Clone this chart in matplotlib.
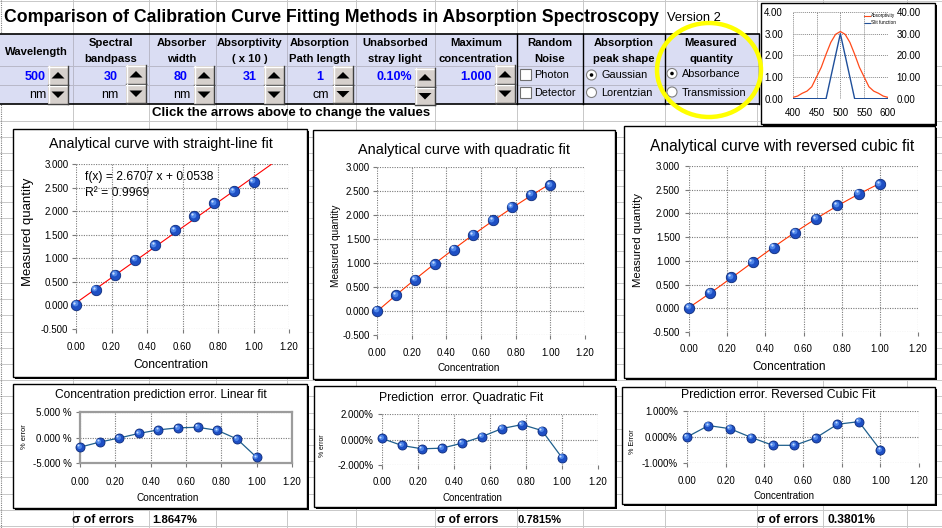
import numpy as np
import matplotlib
matplotlib.use('Agg')
import matplotlib.pyplot as plt
from matplotlib.patches import Rectangle, Polygon, Ellipse, Circle
import matplotlib.transforms as mtransforms
from matplotlib.ticker import FuncFormatter, FixedLocator

plt.rcParams['font.family'] = ['Liberation Sans', 'DejaVu Sans']

# ---------------- data ----------------
concentration = [0.000, 0.111, 0.222, 0.333, 0.444, 0.556, 0.667, 0.778, 0.889, 1.000]
measured = [0.01, 0.33, 0.65, 0.97, 1.28, 1.59, 1.89, 2.17, 2.42, 2.62]
linear_slope = 2.6707
linear_intercept = 0.0538
r_squared = 0.9969
err_linear = [-1.9, -0.9, -0.1, 0.8, 1.5, 1.9, 2.0, 1.4, -0.3, -3.9]
err_quadratic = [0.08, -0.47, -0.73, -0.68, -0.29, 0.23, 0.86, 1.17, 0.70, -1.43]
err_cubic = [0.00, 0.44, 0.32, -0.02, -0.32, -0.32, -0.03, 0.49, 0.59, -0.50]
sigma_labels = ['1.8647%', '0.7815%', '0.3801%']

spec_wavelength = [400, 410, 420, 430, 440, 450, 460, 470, 480, 490, 500,
                   510, 520, 530, 540, 550, 560, 570, 580, 590, 600]
absorptivity = [0.06, 0.12, 0.25, 0.35, 0.55, 1.00, 1.45, 2.05, 2.60, 2.97, 3.10,
                2.97, 2.60, 2.05, 1.45, 1.00, 0.55, 0.35, 0.25, 0.12, 0.06]
slit_wavelength = [400, 470, 500, 530, 600]
slit_function = [0, 0, 30, 0, 0]

headers = ['Wavelength', 'Spectral\nbandpass', 'Absorber\nwidth', 'Absorptivity\n( x 10 )',
           'Absorption\nPath length', 'Unabsorbed\nstray light', 'Maximum\nconcentration',
           'Random\nNoise', 'Absorption\npeak shape', 'Measured\nquantity']
values = ['500', '30', '80', '31', '1', '0.10%', '1.000']
units = ['nm', 'nm', 'nm', '', 'cm', '', '']
noise_options = ['Photon', 'Detector']
shape_options = ['Gaussian', 'Lorentzian']
quantity_options = ['Absorbance', 'Transmission']

W, H = 942, 528
fig = plt.figure(figsize=(W / 100, H / 100), dpi=100)
renderer = fig.canvas.get_renderer()

ov = fig.add_axes([0, 0, 1, 1], zorder=0)
ov.set_xlim(0, W); ov.set_ylim(H, 0); ov.axis('off')
top = fig.add_axes([0, 0, 1, 1], zorder=20)
top.set_xlim(0, W); top.set_ylim(H, 0); top.axis('off'); top.patch.set_alpha(0)


def ftext(ax, x, y, s, width=None, size=8, vertical=False, **kw):
    t = ax.text(x, y, s, fontsize=size, **kw)
    if width:
        bb = t.get_window_extent(renderer)
        w = bb.height if vertical else bb.width
        t.set_fontsize(size * width / w)
    return t


# ---------------- spreadsheet grid ----------------
gridc = '#C8C8C8'
vlines = [73, 149, 216, 287, 356, 435, 517, 583, 665, 757, 823, 907]
for x in vlines:
    ov.plot([x, x], [0, H], color=gridc, lw=0.7, zorder=0)
hlines = [0.5, 66, 85, 121] + [121 + 16.2 * k for k in range(1, 26)]
for y in hlines:
    ov.plot([0, W], [y, y], color=gridc, lw=0.7, zorder=0)
ov.plot([1, 1], [0, H], color='#808080', lw=0.8, ls=(0, (1, 1)), zorder=0)

# ---------------- control panel ----------------
ov.add_patch(Rectangle((0, 34), 759, 70, facecolor='#DADDF3', edgecolor='none', zorder=0.5))
for y in [66, 85]:
    ov.plot([0, 759], [y, y], color='#B8B8C8', lw=0.7, zorder=0.6)
for x in [73, 149, 216, 287, 356, 435]:
    ov.plot([x, x], [34, 104], color='#B8B8C8', lw=0.7, zorder=0.6)
ov.plot([0, 759], [34, 34], color='black', lw=1.2, zorder=1)
ov.plot([0, 759], [104, 104], color='black', lw=1.2, zorder=1)
for x in [517, 583, 665, 759]:
    ov.plot([x, x], [34, 104], color='black', lw=1.0, zorder=1)

ftext(ov, 4, 17, 'Comparison of Calibration Curve Fitting Methods in Absorption Spectroscopy',
      width=652, size=13, weight='bold', ha='left', va='center', zorder=2)
ftext(ov, 667, 18, 'Version 2', width=54, size=9, ha='left', va='center', zorder=2)
ftext(ov, 152, 113, 'Click the arrows above to change the values', width=280, size=8,
      weight='bold', ha='left', va='center', zorder=2)

hdr_x = [36, 111, 182, 250, 320, 395, 476, 550, 624, 711]
for hx, h in zip(hdr_x, headers):
    lines = h.split('\n')
    ys = [52] if len(lines) == 1 else [43.5, 59.5]
    for ln, yy in zip(lines, ys):
        ov.text(hx, yy, ln, fontsize=8.1, weight='bold', ha='center', va='center', zorder=2,
                family=['Liberation Sans Narrow', 'Liberation Sans'])

val_right = [46, 118, 188, 257, 323, 412, 492]
for vx, v in zip(val_right, values):
    ov.text(vx, 76.5, v, fontsize=9, weight='bold', color='#0000FF', ha='right', va='center', zorder=2)
unit_right = [46, 118, 190, 0, 329, 0, 0]
for ux, u in zip(unit_right, units):
    if u:
        ov.text(ux, 95.5, u, fontsize=9, color='black', ha='right', va='center', zorder=2)

# spin buttons
buttons = [(48, 66, 85, 104), (126, 65, 84, 103), (194, 66, 85, 104), (264, 66, 85, 104),
           (333, 66, 85, 103), (415, 68, 87, 105), (495, 65, 84, 103)]


def spin(x0, y0, y1, up):
    w = 20
    ov.add_patch(Rectangle((x0, y0), w, y1 - y0, facecolor='#D6D0CC', edgecolor='none', zorder=3))
    ov.plot([x0, x0 + w], [y0 + 0.5, y0 + 0.5], color='white', lw=1, zorder=3.1)
    ov.plot([x0 + 0.5, x0 + 0.5], [y0, y1], color='white', lw=1, zorder=3.1)
    ov.plot([x0, x0 + w], [y1 - 0.5, y1 - 0.5], color='#404040', lw=1, zorder=3.1)
    ov.plot([x0 + w - 0.5, x0 + w - 0.5], [y0, y1], color='#404040', lw=1, zorder=3.1)
    cx, cy = x0 + w / 2, (y0 + y1) / 2
    if up:
        pts = [(cx - 6.5, cy + 3), (cx + 6.5, cy + 3), (cx, cy - 3.5)]
    else:
        pts = [(cx - 6.5, cy - 3), (cx + 6.5, cy - 3), (cx, cy + 3.5)]
    ov.add_patch(Polygon(pts, closed=True, facecolor='black', edgecolor='none', zorder=3.2))


for (bx, ya, ym, yb) in buttons:
    spin(bx, ya, ym, True)
    spin(bx, ym, yb, False)

# check boxes
for yy, lab in zip([75, 93], noise_options):
    ov.add_patch(Rectangle((519.5, yy - 6), 11, 11, facecolor='white', edgecolor='#707070', lw=0.8, zorder=3))
    ov.text(534, yy, lab, fontsize=7.8, ha='left', va='center', zorder=3)
# radio buttons
for yy, lab, sel in zip([75, 92.5], shape_options, [True, False]):
    ov.add_patch(Circle((591.5, yy), 5, facecolor='white', edgecolor='#808080', lw=0.8, zorder=3))
    if sel:
        ov.add_patch(Circle((591.5, yy), 1.8, facecolor='black', edgecolor='none', zorder=3.1))
    ov.text(601.5, yy + 0.5, lab, fontsize=7.8, ha='left', va='center', zorder=3)
for yy, lab, sel in zip([73.5, 92], quantity_options, [True, False]):
    ov.add_patch(Circle((672, yy), 5, facecolor='white', edgecolor='#808080', lw=0.8, zorder=3))
    if sel:
        ov.add_patch(Circle((672, yy), 1.8, facecolor='black', edgecolor='none', zorder=3.1))
    ov.text(682, yy + 0.5, lab, fontsize=7.8, ha='left', va='center', zorder=3)


# ---------------- helpers for charts ----------------
def box(x0, y0, x1, y1):
    ov.add_patch(Rectangle((x0 + 2, y0 + 2), x1 - x0, y1 - y0, facecolor='black', edgecolor='none', zorder=4))
    ov.add_patch(Rectangle((x0, y0), x1 - x0, y1 - y0, facecolor='white', edgecolor='black', lw=1.0, zorder=4.1))


def make_axes(px0, px1, py0, py1, xlim, ylim):
    ax = fig.add_axes([px0 / W, 1 - py1 / H, (px1 - px0) / W, (py1 - py0) / H], zorder=5)
    ax.set_xlim(*xlim); ax.set_ylim(*ylim)
    ax.patch.set_alpha(0)
    for s in ax.spines.values():
        s.set_visible(False)
    return ax


def spheres(ax, x, y, ms):
    ax.plot(x, y, 'o', ms=ms, mfc='#1E4FC4', mec='#0B2A7A', mew=0.6, zorder=6, clip_on=False)
    off = mtransforms.offset_copy(ax.transData, fig=fig, x=-ms * 0.14, y=ms * 0.14, units='points')
    ax.plot(x, y, 'o', ms=ms * 0.55, mfc='#4F86E8', mec='none', transform=off, zorder=7, clip_on=False)
    off2 = mtransforms.offset_copy(ax.transData, fig=fig, x=-ms * 0.2, y=ms * 0.2, units='points')
    ax.plot(x, y, 'o', ms=ms * 0.22, mfc='#C8DCFF', mec='none', transform=off2, zorder=8, clip_on=False)


def style(ax, xt, yt, yfmt, xpad, ypad):
    ax.xaxis.set_major_locator(FixedLocator(xt))
    ax.yaxis.set_major_locator(FixedLocator(yt))
    ax.xaxis.set_major_formatter(FuncFormatter(lambda v, p: f'{v:.2f}'))
    ax.yaxis.set_major_formatter(FuncFormatter(yfmt))
    ax.grid(True, color='#7A7A7A', lw=0.8, ls=(0, (1, 1.2)))
    ax.tick_params(axis='both', labelsize=7, color='#7A7A7A', length=3, width=0.8)
    ax.tick_params(axis='x', pad=xpad)
    ax.tick_params(axis='y', pad=ypad)
    ax.set_axisbelow(True)


xt = [0.0, 0.2, 0.4, 0.6, 0.8, 1.0, 1.2]
yt_main = [-0.5, 0.0, 0.5, 1.0, 1.5, 2.0, 2.5, 3.0]
fmt3 = lambda v, p: f'{v:.3f}'
conc = np.array(concentration)
meas = np.array(measured)

# chart 1: linear
box(13, 129, 307, 377)
ax1 = make_axes(76, 289, 164, 329, (0, 1.2), (-0.5, 3.0))
style(ax1, xt, yt_main, fmt3, 6.5, 2.5)
xl = np.array([0.0, 1.1])
ax1.plot(xl, linear_slope * xl + linear_intercept, color='#FF0000', lw=0.8, zorder=5)
spheres(ax1, conc, meas, 7.5)
ftext(ov, 161, 144, 'Analytical curve with straight-line fit', width=224, size=10, ha='center', va='center', zorder=6)
ftext(ov, 171, 365, 'Concentration', width=75, size=9, ha='center', va='center', zorder=6)
ftext(ov, 28, 232, 'Measured quantity', width=109, size=9, vertical=True, rotation=90, ha='center', va='center', zorder=6)
ftext(ov, 85, 177, f'f(x) = {linear_slope:.4f} x + {linear_intercept:.4f}', width=128, size=9, ha='left', va='center', zorder=6)
ftext(ov, 85, 193, f'R² = {r_squared:.4f}', width=64, size=9, ha='left', va='center', zorder=6)

# chart 2: quadratic
box(313, 130, 615, 379)
ax2 = make_axes(377, 585, 167, 335, (0, 1.2), (-0.5, 3.0))
style(ax2, xt, yt_main, fmt3, 6, 2)
q = np.polyfit(conc, meas, 2)
xq = np.linspace(0, 1, 60)
ax2.plot(xq, np.polyval(q, xq), color='#FF3300', lw=0.8, zorder=5)
spheres(ax2, conc, meas, 7.5)
ftext(ov, 464, 150, 'Analytical curve with quadratic fit', width=211, size=10, ha='center', va='center', zorder=6)
ftext(ov, 469, 368, 'Concentration', width=63, size=8, ha='center', va='center', zorder=6)
ftext(ov, 336, 246, 'Measured quantity', width=83, size=8, vertical=True, rotation=90, ha='center', va='center', zorder=6)

# chart 3: reversed cubic
box(624, 126, 935, 378)
ax3 = make_axes(689, 918, 166, 332, (0, 1.2), (-0.5, 3.0))
style(ax3, xt, yt_main, fmt3, 6, 3.5)
c = np.polyfit(meas, conc, 3)
yc = np.linspace(meas.min(), meas.max(), 60)
ax3.plot(np.polyval(c, yc), yc, color='#FF3300', lw=0.8, zorder=5)
spheres(ax3, conc, meas, 7.5)
ftext(ov, 782, 146, 'Analytical curve with reversed cubic fit', width=264, size=11, ha='center', va='center', zorder=6)
ftext(ov, 789, 367, 'Concentration', width=74, size=9, ha='center', va='center', zorder=6)
ftext(ov, 638, 240, 'Measured quantity', width=94, size=9, vertical=True, rotation=90, ha='center', va='center', zorder=6)

# chart 4: linear error
box(13, 384, 307, 508)
ax4 = make_axes(80, 292, 412, 463, (0, 1.2), (-5, 5))
style(ax4, xt, [-5, 0, 5], lambda v, p: f'{v:.3f} %', 7, 3)
for s in ax4.spines.values():
    s.set_visible(True); s.set_color('#9C9C9C'); s.set_linewidth(1.6)
ax4.plot(conc, err_linear, color='#1F5F8C', lw=0.9, zorder=5)
spheres(ax4, conc, err_linear, 6.5)
ftext(ov, 161, 395, 'Concentration prediction error. Linear fit', width=212, size=9, ha='center', va='center', zorder=6)
ftext(ov, 168, 498, 'Concentration', width=63, size=8, ha='center', va='center', zorder=6)
ftext(ov, 24, 437, '% error', width=25, size=5, vertical=True, rotation=90, ha='center', va='center', zorder=6)
ftext(ov, 72, 520, 'σ of errors', width=62, size=9, weight='bold', ha='left', va='center', zorder=6)
ftext(ov, 152, 520, sigma_labels[0], width=45, size=9, weight='bold', ha='left', va='center', zorder=6)

# chart 5: quadratic error
box(314, 386, 615, 507)
ax5 = make_axes(382, 598, 414, 465, (0, 1.2), (-2, 2))
style(ax5, xt, [-2, 0, 2], lambda v, p: f'{v:.3f}%', 5.5, 3)
ax5.plot(conc, err_quadratic, color='#1F5F8C', lw=0.9, zorder=5)
spheres(ax5, conc, err_quadratic, 6.5)
ftext(ov, 461, 398, 'Prediction  error. Quadratic Fit', width=165, size=9, ha='center', va='center', zorder=6)
ftext(ov, 472, 498, 'Concentration', width=61, size=8, ha='center', va='center', zorder=6)
ftext(ov, 323, 446, '% error', width=23, size=5, vertical=True, rotation=90, ha='center', va='center', zorder=6)
ftext(ov, 437, 520, 'σ of errors', width=61, size=9, weight='bold', ha='left', va='center', zorder=6)
ftext(ov, 517, 520, sigma_labels[1], width=44, size=9, weight='bold', ha='left', va='center', zorder=6)

# chart 6: cubic error
box(622, 387, 935, 504)
ax6 = make_axes(687, 919, 411, 463, (0, 1.2), (-1, 1))
style(ax6, xt, [-1, 0, 1], lambda v, p: f'{v:.3f}%', 6.5, 3.5)
ax6.plot(conc, err_cubic, color='#1F5F8C', lw=0.9, zorder=5)
spheres(ax6, conc, err_cubic, 6.5)
ftext(ov, 778, 395, 'Prediction error. Reversed Cubic Fit', width=194, size=9, ha='center', va='center', zorder=6)
ftext(ov, 784, 496, 'Concentration', width=62, size=8, ha='center', va='center', zorder=6)
ftext(ov, 632, 442, '% Error', width=25, size=5, vertical=True, rotation=90, ha='center', va='center', zorder=6)
ftext(ov, 757, 520, 'σ of errors', width=61, size=9, weight='bold', ha='left', va='center', zorder=6)
ftext(ov, 827, 520, sigma_labels[2], width=48, size=9, weight='bold', ha='left', va='center', zorder=6)

# ---------------- mini spectrum chart ----------------
box(761, 3, 935, 124)
axm = make_axes(792.7, 888, 12, 98.7, (400, 600), (0, 4))
axm.xaxis.set_major_locator(FixedLocator([400, 450, 500, 550, 600]))
axm.yaxis.set_major_locator(FixedLocator([0, 1, 2, 3, 4]))
axm.yaxis.set_major_formatter(FuncFormatter(lambda v, p: f'{v:.2f}'))
axm.grid(True, color='#8A8A8A', lw=0.7, ls=(0, (1, 1)))
axm.tick_params(axis='both', labelsize=7, length=0)
axm.tick_params(axis='y', pad=7)
axm.tick_params(axis='x', pad=7)
axm.plot(spec_wavelength, absorptivity, color='#FF4A1A', lw=0.9, zorder=5)
axr = axm.twinx()
axr.set_ylim(0, 40)
for s in axr.spines.values():
    s.set_visible(False)
axr.yaxis.set_major_locator(FixedLocator([0, 10, 20, 30, 40]))
axr.yaxis.set_major_formatter(FuncFormatter(lambda v, p: f'{v:.2f}'))
axr.tick_params(axis='y', labelsize=7, length=0, pad=6)
axr.plot(slit_wavelength, slit_function, color='#1F4F9A', lw=1.0, zorder=5)
axr.patch.set_alpha(0)
ov.plot([864, 870], [16, 16], color='#FF4A1A', lw=0.8, zorder=6)
ov.plot([864, 870], [23, 23], color='#1F4F9A', lw=0.8, zorder=6)
ftext(ov, 871, 16, 'Absorptivity', width=24, size=3, ha='left', va='center', zorder=6)
ftext(ov, 871, 23, 'Slit function', width=24, size=3, ha='left', va='center', zorder=6)

# ---------------- yellow highlight circle ----------------
top.add_patch(Ellipse((709, 70), 104, 94, facecolor='none', edgecolor='#FFFF00', lw=3.2, zorder=30))

fig.savefig('out.png', dpi=100)
